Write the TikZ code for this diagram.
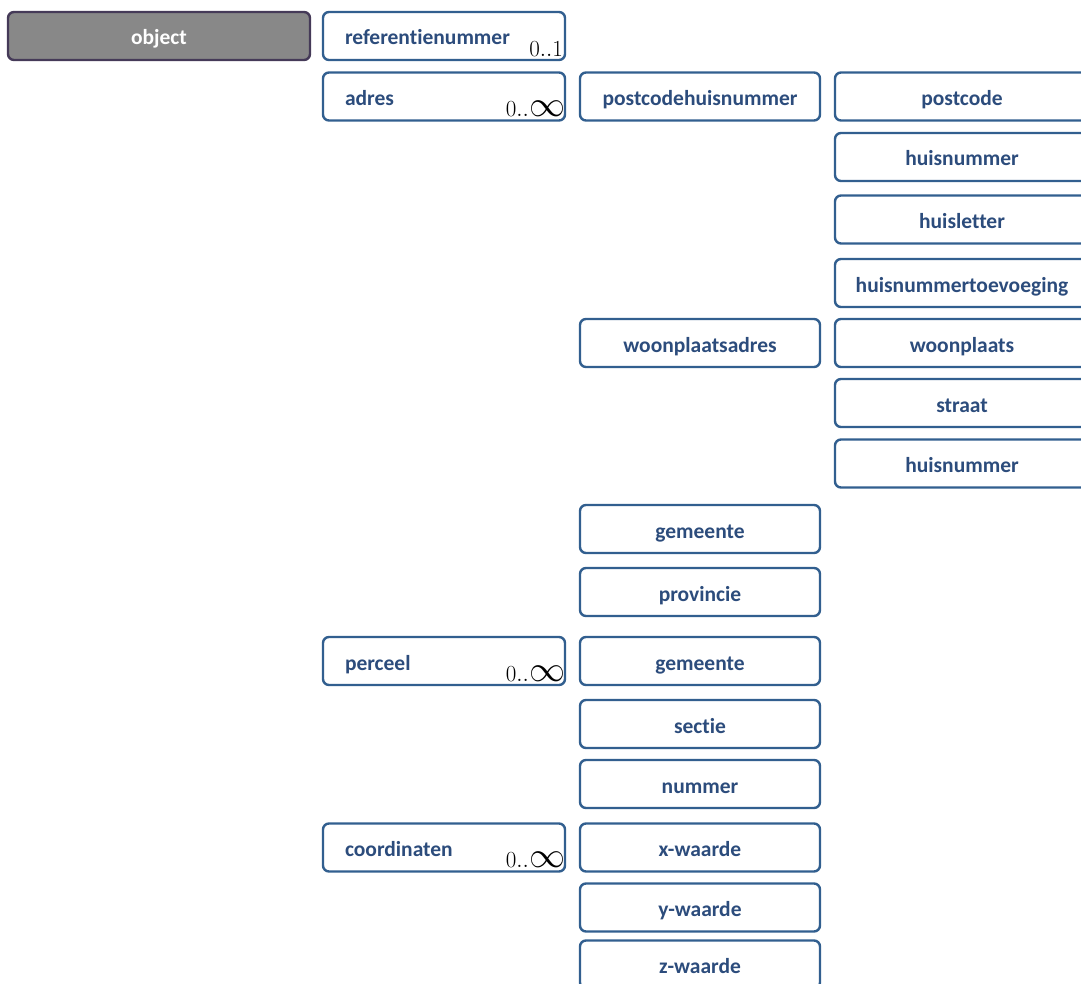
\RequirePackage{fix-cm}
\documentclass[tikz,border=0pt]{standalone}
\usepackage{fontspec}
\setmainfont{Carlito}[Ligatures=NoCommon]
\usepackage{tikz}
\usepackage{xcolor}
\definecolor{boxline}{HTML}{325F8F}
\definecolor{boxtext}{HTML}{2C4C7C}
\definecolor{rootfill}{HTML}{888888}
\definecolor{rootline}{HTML}{453A58}
\newcommand{\veel}{$0..${\fontsize{36}{36}\selectfont$\infty$}}

\begin{document}
\begin{tikzpicture}[x=1pt,y=-1pt,
    every node/.style={font=\fontsize{21.5}{24}\selectfont\bfseries, text=boxtext},
    field/.style={draw=boxline, line width=2.4pt, rounded corners=6pt, fill=white,
        minimum height=48pt, inner sep=0pt, text height=18pt, text depth=0pt},
    leftfield/.style={field, minimum width=242pt, text width=198pt, align=left},
    midfield/.style={field, minimum width=240pt, align=center},
    rightfield/.style={field, minimum width=254pt, align=center},
    mult/.style={font=\fontsize{23}{24}\selectfont, text=black, inner sep=0pt, anchor=base east}]
        \useasboundingbox (0,0) rectangle (1081,984);
        \clip (0,0) rectangle (1081,984);

        \node [field, draw=rootline, fill=rootfill, text=white, minimum width=302pt] (object) at (159,36) {object};

        % eerste kolom
        \node [leftfield] (refnr) at (444,36) {referentienummer};
        \node [leftfield] (adres) at (444,96.5) {adres};
        \node [leftfield] (perceel) at (444,661) {perceel};
        \node [leftfield] (coord) at (444,847.5) {coordinaten};

        \node [mult] (refnrm) at ([xshift=-3pt,yshift=5pt]refnr.south east) {$0..1$};
        \node [mult] (adresm) at ([xshift=-1pt,yshift=5pt]adres.south east) {\veel};
        \node [mult] (perceelm) at ([xshift=-1pt,yshift=5pt]perceel.south east) {\veel};
        \node [mult] (coordm) at ([xshift=-1pt,yshift=5pt]coord.south east) {\veel};

        % tweede kolom
        \node [midfield] (pchn) at (700,96.5) {postcodehuisnummer};
        \node [midfield] (wpadres) at (700,343) {woonplaatsadres};
        \node [midfield] (gemeente) at (700,529) {gemeente};
        \node [midfield] (provincie) at (700,592) {provincie};
        \node [midfield] (kgemeente) at (700,661) {gemeente};
        \node [midfield] (sectie) at (700,724) {sectie};
        \node [midfield] (nummer) at (700,784) {nummer};
        \node [midfield] (xw) at (700,847.5) {x-waarde};
        \node [midfield] (yw) at (700,907.5) {y-waarde};
        \node [midfield] (zw) at (700,964.5) {z-waarde};

        % derde kolom
        \node [rightfield] (postcode) at (962,96.5) {postcode};
        \node [rightfield] (huisnr) at (962,157) {huisnummer};
        \node [rightfield] (huisletter) at (962,219.5) {huisletter};
        \node [rightfield] (toev) at (962,283) {huisnummertoevoeging};
        \node [rightfield] (woonplaats) at (962,343) {woonplaats};
        \node [rightfield] (straat) at (962,403) {straat};
        \node [rightfield] (wphuisnr) at (962,463.5) {huisnummer};
    \end{tikzpicture}
\end{document}
